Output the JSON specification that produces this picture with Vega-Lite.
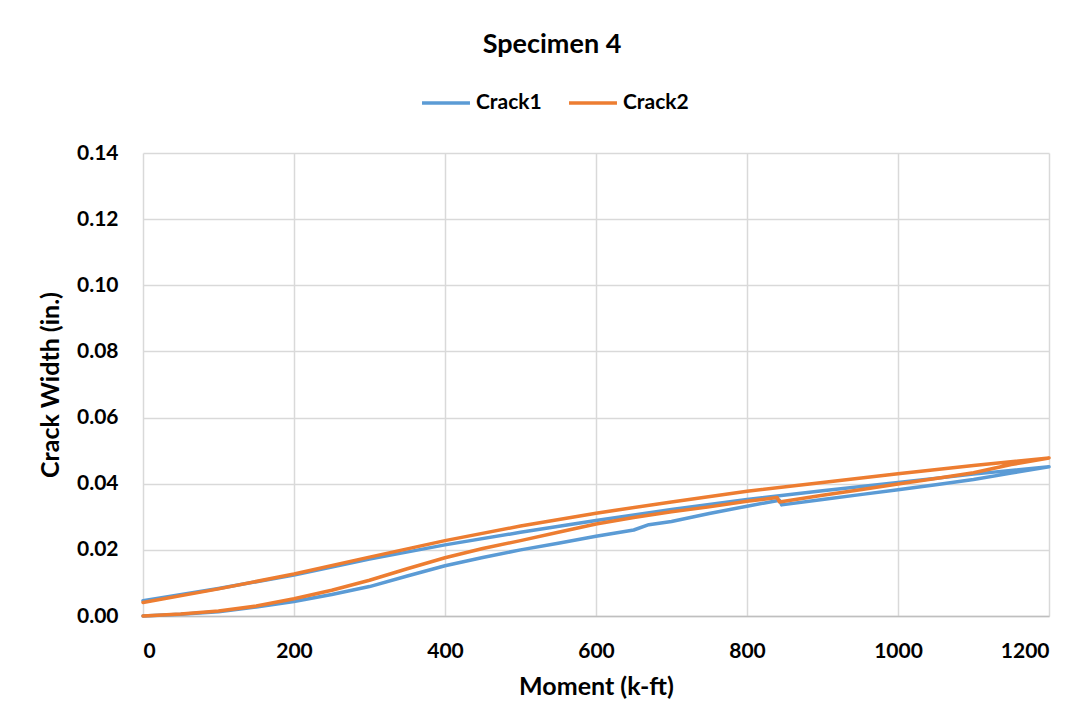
{
  "$schema": "https://vega.github.io/schema/vega-lite/v6.json",
  "width": 906,
  "height": 463,
  "autosize": {"type": "none"},
  "padding": {"left": 143, "top": 153, "right": 43, "bottom": 109},
  "background": "white",
  "title": {
    "text": "Specimen 4",
    "anchor": "middle",
    "frame": "group",
    "dx": -44,
    "fontSize": 27,
    "font": "Lato",
    "fontWeight": "bold",
    "color": "#000000",
    "offset": 18
  },
  "data": {
    "values": [
      {"s": "Crack1", "i": 1, "m": 0, "w": 0},
      {"s": "Crack1", "i": 2, "m": 50, "w": 0.0005},
      {"s": "Crack1", "i": 3, "m": 100, "w": 0.0013},
      {"s": "Crack1", "i": 4, "m": 150, "w": 0.0027},
      {"s": "Crack1", "i": 5, "m": 200, "w": 0.0044},
      {"s": "Crack1", "i": 6, "m": 250, "w": 0.0065},
      {"s": "Crack1", "i": 7, "m": 300, "w": 0.0089},
      {"s": "Crack1", "i": 8, "m": 350, "w": 0.0121},
      {"s": "Crack1", "i": 9, "m": 400, "w": 0.0152},
      {"s": "Crack1", "i": 10, "m": 450, "w": 0.0177},
      {"s": "Crack1", "i": 11, "m": 500, "w": 0.02},
      {"s": "Crack1", "i": 12, "m": 550, "w": 0.022},
      {"s": "Crack1", "i": 13, "m": 600, "w": 0.0241},
      {"s": "Crack1", "i": 14, "m": 650, "w": 0.026},
      {"s": "Crack1", "i": 15, "m": 670, "w": 0.0276},
      {"s": "Crack1", "i": 16, "m": 700, "w": 0.0286},
      {"s": "Crack1", "i": 17, "m": 750, "w": 0.031},
      {"s": "Crack1", "i": 18, "m": 800, "w": 0.0332},
      {"s": "Crack1", "i": 19, "m": 843, "w": 0.035},
      {"s": "Crack1", "i": 20, "m": 846, "w": 0.0336},
      {"s": "Crack1", "i": 21, "m": 900, "w": 0.0352},
      {"s": "Crack1", "i": 22, "m": 950, "w": 0.0367},
      {"s": "Crack1", "i": 23, "m": 1000, "w": 0.0382},
      {"s": "Crack1", "i": 24, "m": 1050, "w": 0.0397},
      {"s": "Crack1", "i": 25, "m": 1100, "w": 0.0413},
      {"s": "Crack1", "i": 26, "m": 1150, "w": 0.0432},
      {"s": "Crack1", "i": 27, "m": 1200, "w": 0.0451},
      {"s": "Crack1", "i": 28, "m": 1100, "w": 0.0429},
      {"s": "Crack1", "i": 29, "m": 1000, "w": 0.0404},
      {"s": "Crack1", "i": 30, "m": 900, "w": 0.0379},
      {"s": "Crack1", "i": 31, "m": 800, "w": 0.0352},
      {"s": "Crack1", "i": 32, "m": 700, "w": 0.0322},
      {"s": "Crack1", "i": 33, "m": 600, "w": 0.0289},
      {"s": "Crack1", "i": 34, "m": 500, "w": 0.0253},
      {"s": "Crack1", "i": 35, "m": 400, "w": 0.0215},
      {"s": "Crack1", "i": 36, "m": 300, "w": 0.0172},
      {"s": "Crack1", "i": 37, "m": 200, "w": 0.0124},
      {"s": "Crack1", "i": 38, "m": 100, "w": 0.0083},
      {"s": "Crack1", "i": 39, "m": 0, "w": 0.0046},
      {"s": "Crack2", "i": 1, "m": 0, "w": 0},
      {"s": "Crack2", "i": 2, "m": 50, "w": 0.0006},
      {"s": "Crack2", "i": 3, "m": 100, "w": 0.0015},
      {"s": "Crack2", "i": 4, "m": 150, "w": 0.003},
      {"s": "Crack2", "i": 5, "m": 200, "w": 0.0052},
      {"s": "Crack2", "i": 6, "m": 250, "w": 0.0078},
      {"s": "Crack2", "i": 7, "m": 300, "w": 0.0108},
      {"s": "Crack2", "i": 8, "m": 350, "w": 0.0143},
      {"s": "Crack2", "i": 9, "m": 400, "w": 0.0176},
      {"s": "Crack2", "i": 10, "m": 450, "w": 0.0204},
      {"s": "Crack2", "i": 11, "m": 500, "w": 0.0228},
      {"s": "Crack2", "i": 12, "m": 550, "w": 0.0253},
      {"s": "Crack2", "i": 13, "m": 600, "w": 0.0278},
      {"s": "Crack2", "i": 14, "m": 650, "w": 0.0298},
      {"s": "Crack2", "i": 15, "m": 700, "w": 0.0315},
      {"s": "Crack2", "i": 16, "m": 750, "w": 0.033},
      {"s": "Crack2", "i": 17, "m": 800, "w": 0.0347},
      {"s": "Crack2", "i": 18, "m": 840, "w": 0.0358},
      {"s": "Crack2", "i": 19, "m": 843, "w": 0.0345},
      {"s": "Crack2", "i": 20, "m": 900, "w": 0.0365},
      {"s": "Crack2", "i": 21, "m": 950, "w": 0.0382},
      {"s": "Crack2", "i": 22, "m": 1000, "w": 0.0399},
      {"s": "Crack2", "i": 23, "m": 1050, "w": 0.0416},
      {"s": "Crack2", "i": 24, "m": 1100, "w": 0.0433},
      {"s": "Crack2", "i": 25, "m": 1150, "w": 0.0458},
      {"s": "Crack2", "i": 26, "m": 1200, "w": 0.0478},
      {"s": "Crack2", "i": 27, "m": 1100, "w": 0.0455},
      {"s": "Crack2", "i": 28, "m": 1000, "w": 0.043},
      {"s": "Crack2", "i": 29, "m": 900, "w": 0.0404},
      {"s": "Crack2", "i": 30, "m": 800, "w": 0.0377},
      {"s": "Crack2", "i": 31, "m": 700, "w": 0.0345},
      {"s": "Crack2", "i": 32, "m": 600, "w": 0.0311},
      {"s": "Crack2", "i": 33, "m": 500, "w": 0.0272},
      {"s": "Crack2", "i": 34, "m": 400, "w": 0.0228},
      {"s": "Crack2", "i": 35, "m": 300, "w": 0.0178},
      {"s": "Crack2", "i": 36, "m": 200, "w": 0.0127},
      {"s": "Crack2", "i": 37, "m": 100, "w": 0.0082},
      {"s": "Crack2", "i": 38, "m": 0, "w": 0.0041}
    ]
  },
  "mark": {"type": "line", "strokeWidth": 3.5, "strokeJoin": "round", "strokeCap": "round"},
  "encoding": {
    "x": {
      "field": "m", "type": "quantitative",
      "scale": {"domain": [0, 1200], "nice": false},
      "axis": {"values": [0, 200, 400, 600, 800, 1000, 1200], "format": "d", "title": "Moment (k-ft)", "labelPadding": 24, "titlePadding": 13}
    },
    "y": {
      "field": "w", "type": "quantitative",
      "scale": {"domain": [0, 0.14], "nice": false},
      "axis": {"values": [0, 0.02, 0.04, 0.06, 0.08, 0.1, 0.12, 0.14], "format": ".2f", "title": "Crack Width (in.)", "labelPadding": 25, "titlePadding": 13, "domain": false}
    },
    "order": {"field": "i", "type": "quantitative"},
    "color": {
      "field": "s", "type": "nominal",
      "scale": {"domain": ["Crack1", "Crack2"], "range": ["#5B9BD5", "#ED7D31"]},
      "legend": {
        "title": null, "orient": "none", "direction": "horizontal",
        "legendX": 277, "legendY": -76,
        "symbolType": "stroke", "symbolSize": 2300, "symbolStrokeWidth": 3.5,
        "labelFontSize": 21, "labelFont": "Lato", "labelFontWeight": "bold", "labelColor": "#000000",
        "labelOffset": 4, "columnPadding": 20, "padding": 0
      }
    }
  },
  "config": {
    "view": {"stroke": null},
    "axis": {
      "labelFont": "Lato", "labelFontSize": 21, "labelFontWeight": "bold", "labelColor": "#000000",
      "titleFont": "Lato", "titleFontSize": 25, "titleFontWeight": "bold", "titleColor": "#000000",
      "ticks": false, "gridColor": "#D9D9D9", "gridWidth": 1.5, "domainColor": "#BFBFBF", "domainWidth": 1.5
    }
  }
}
